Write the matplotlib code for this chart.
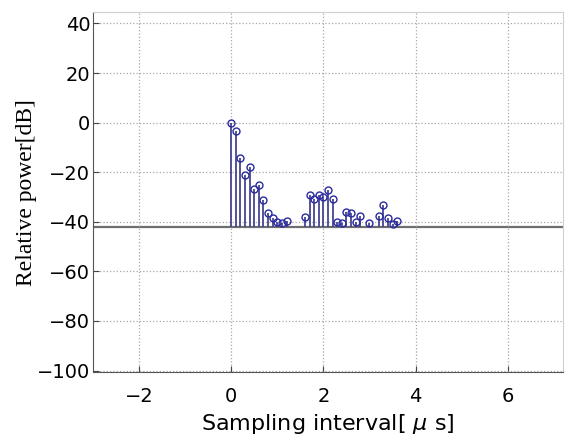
import matplotlib
matplotlib.use("Agg")
import matplotlib.pyplot as plt
import numpy as np

# delay taps (us) and relative power (dB)
delay_us = [0.0, 0.1, 0.2, 0.3, 0.4, 0.5, 0.6, 0.7, 0.8, 0.9, 1.0, 1.1, 1.2,
            1.6, 1.7, 1.8, 1.9, 2.0, 2.1, 2.2, 2.3, 2.4, 2.5, 2.6, 2.7, 2.8,
            3.0, 3.2, 3.3, 3.4, 3.5, 3.6]
power_db = [0.0, -3.4, -14.1, -21.2, -17.8, -26.7, -25.3, -31.3, -36.4, -38.4, -40.0, -40.4, -39.5,
            -38.0, -29.4, -30.7, -29.0, -29.9, -27.0, -30.7, -40.0, -40.4, -36.1, -36.6, -40.0, -37.7,
            -40.4, -37.7, -33.4, -38.4, -40.8, -39.7]
noise_floor = -42.3

x_ticks = [-2, 0, 2, 4, 6]
y_ticks = [40, 20, 0, -20, -40, -60, -80, -100]

fig = plt.figure(figsize=(5.65, 4.44), dpi=100)
ax = fig.add_axes([93/565, 1 - 372/444, (563 - 93)/565, (372 - 12.3)/444])

stem_color = "#45458f"
ml, sl, bl = ax.stem(delay_us, power_db, bottom=noise_floor, basefmt=" ")
plt.setp(sl, color=stem_color, linewidth=1.3)
plt.setp(ml, marker="o", markersize=5, markerfacecolor="none",
         markeredgecolor="#2a2aa0", markeredgewidth=1.0)
ax.axhline(noise_floor, color="#6e6e6e", linewidth=1.6, zorder=1)

ax.set_xlim(-3, 7.2)
ax.set_ylim(-100.6, 44.5)
ax.set_xticks(x_ticks)
ax.set_yticks(y_ticks)
ax.set_xticklabels(["\u22122", "0", "2", "4", "6"])
ax.set_yticklabels(["40", "20", "0", "\u221220", "\u221240", "\u221260", "\u221280", "\u2212100"])
ax.tick_params(direction="in", labelsize=14, length=4, color="#444444")
ax.tick_params(axis="x", pad=11)
ax.tick_params(axis="y", pad=2)
ax.grid(True, linestyle=":", color="#a8a8a8", linewidth=0.9)

for side in ["top", "right"]:
    ax.spines[side].set_color("#d0d0d0")
for side in ["left", "bottom"]:
    ax.spines[side].set_color("#555555")

ax.set_xlabel("Sampling interval[ $\\mu$ s]", fontsize=16, labelpad=4)
ax.set_ylabel("Relative power[dB]", fontsize=17, family="Liberation Serif", labelpad=0)

fig.savefig("out.png", dpi=100)
